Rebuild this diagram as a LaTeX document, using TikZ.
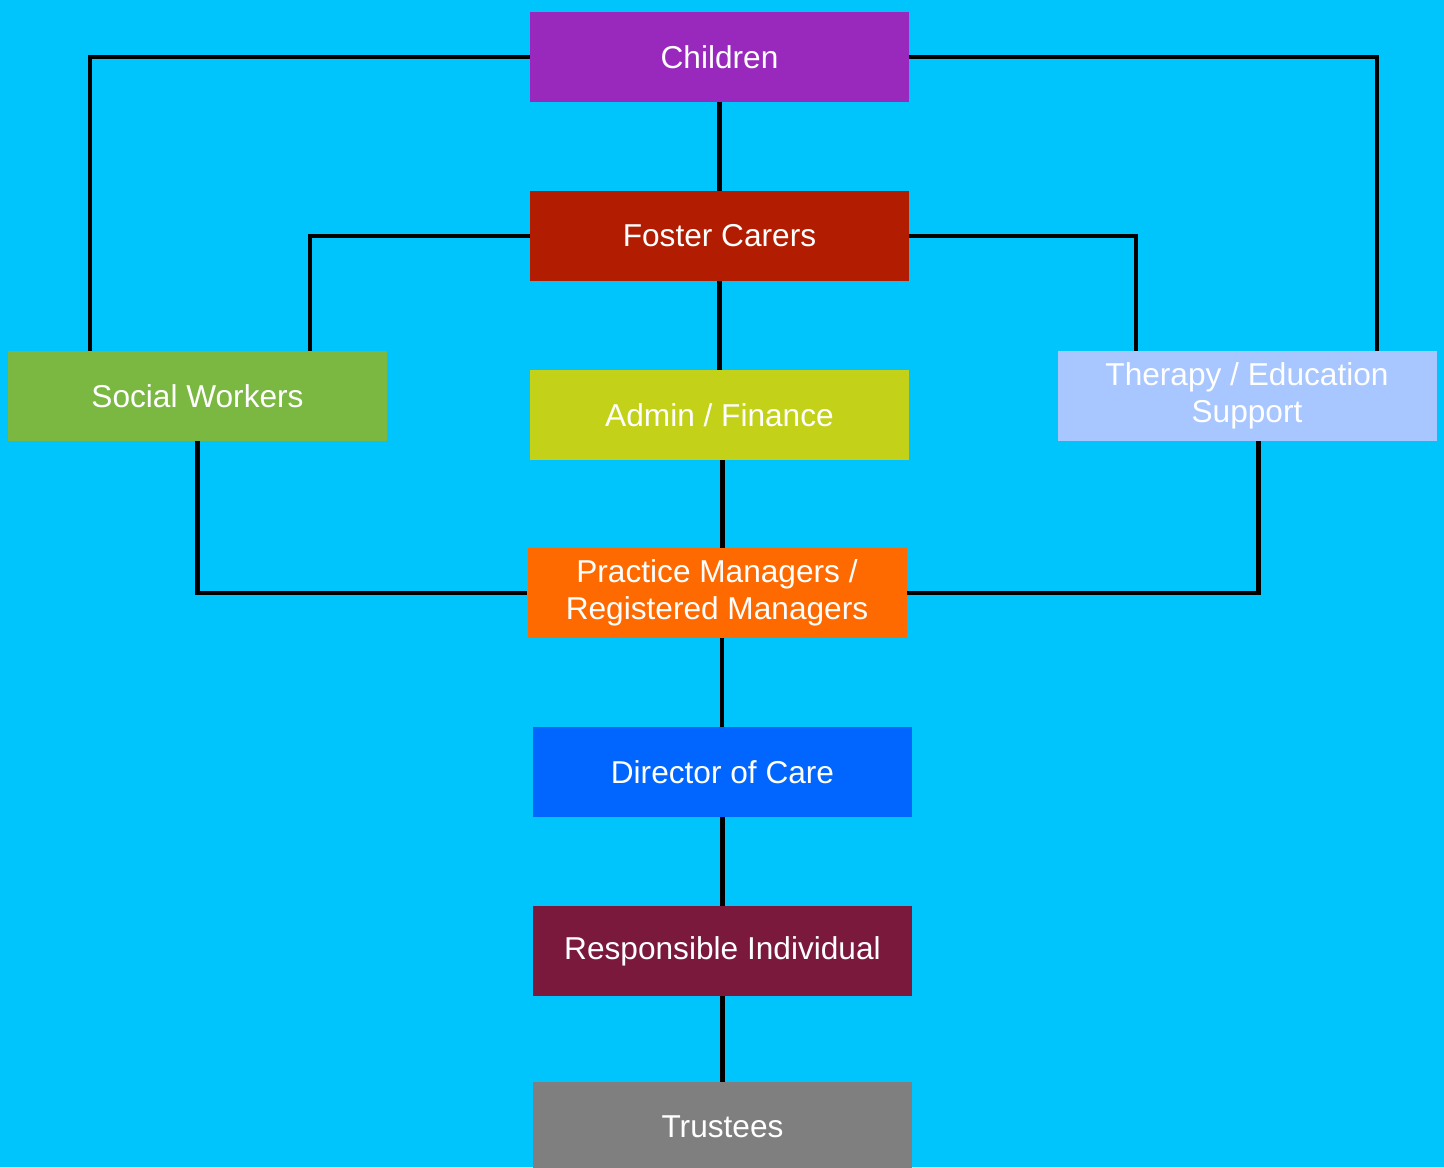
\documentclass[tikz,border=0pt]{standalone}
\usepackage{fontspec}
\setmainfont{Liberation Sans}

\definecolor{skyback}{HTML}{00C5FC}
\definecolor{childcol}{HTML}{9929BD}
\definecolor{fostercol}{HTML}{B21C00}
\definecolor{admincol}{HTML}{C3D118}
\definecolor{managercol}{HTML}{FF6A00}
\definecolor{directorcol}{HTML}{0066FF}
\definecolor{respcol}{HTML}{7B193D}
\definecolor{trustcol}{HTML}{7F7F7F}
\definecolor{socialcol}{HTML}{7BB842}
\definecolor{therapycol}{HTML}{A8C6FF}

\tikzset{
	box/.style={rectangle, inner sep=0pt, minimum width=7.58cm, minimum height=1.8cm,
		text=white, align=center, font=\fontsize{18}{21}\selectfont}
}

\begin{document}
\begin{tikzpicture}[link/.style={line width=2.3pt, black}]
				\fill[skyback] (0,0) rectangle (28.88,-23.34);
				\useasboundingbox (0,0) rectangle (28.88,-23.34);
				
				%% middle column
				\node[box, fill=childcol] (child) at (14.39,-1.14) {Children};
				\node[box, fill=fostercol] (foster) at (14.39,-4.72) {Foster Carers};
				\node[box, fill=admincol] (admin) at (14.39,-8.30) {Admin / Finance};
				\node[box, fill=managercol] (manager) at (14.34,-11.86) {Practice Managers /\\Registered Managers};
				\node[box, fill=directorcol] (director) at (14.45,-15.44) {Director of Care};
				\node[box, fill=respcol] (resp) at (14.45,-19.02) {Responsible Individual};
				\node[box, fill=trustcol] (trust) at (14.45,-22.54) {Trustees};
				
				%% side boxes
				\node[box, fill=socialcol] (social) at (3.95,-7.92) {Social Workers};
				\node[box, fill=therapycol] (therapy) at (24.94,-7.92) {Therapy / Education\\Support};
				
				%% outer links
				\draw[link] (child.west) -| ([xshift=1.64cm]social.north west);
				\draw[link] (child.east) -| ([xshift=-1.2cm]therapy.north east);
				\draw[link] (foster.west) -| ([xshift=6.04cm]social.north west);
				\draw[link] (foster.east) -| ([xshift=1.58cm]therapy.north west);
				\draw[link] (social.south) |- (manager.west);
				\draw[link] ([xshift=0.23cm]therapy.south) |- (manager.east);
				
				%% chain down the middle
				\draw[link] (child.south) -- (foster.north);
				\draw[link] (foster.south) -- (admin.north);
				\draw[link] ([xshift=0.06cm]admin.south) -- ([xshift=0.06cm]admin.south |- manager.north);
				\draw[link] ([xshift=0.1cm]manager.south) -- ([xshift=0.1cm]manager.south |- director.north);
				\draw[link] (director.south) -- (resp.north);
				\draw[link] (resp.south) -- (trust.north);
\end{tikzpicture}
\end{document}
